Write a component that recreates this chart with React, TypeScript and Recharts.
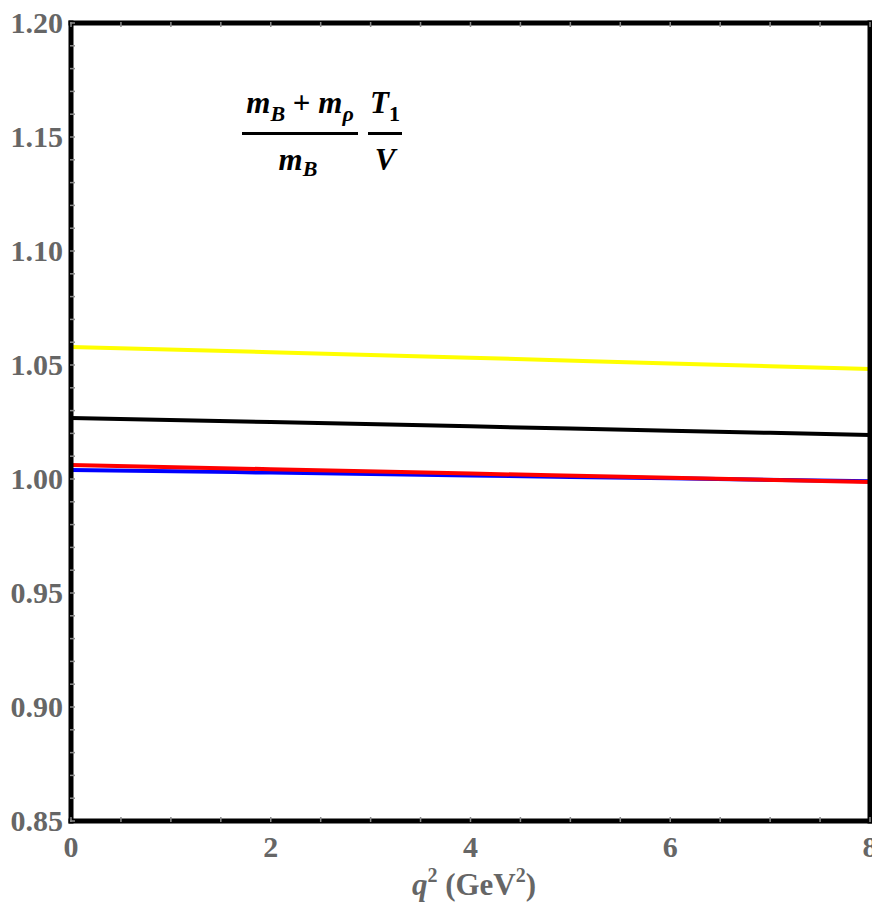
import React from "react";
import { LineChart, Line, XAxis, YAxis } from "recharts";

const qValues = [0, 2, 4, 6, 8];
const yellowSeries = [1.0579, 1.0556, 1.0532, 1.0507, 1.0482];
const blackSeries = [1.0268, 1.025, 1.0231, 1.0212, 1.0193];
const redSeries = [1.0061, 1.0043, 1.0024, 1.0005, 0.9987];
const blueSeries = [1.004, 1.0028, 1.0015, 1.0003, 0.999];

const xMajorTicks = [0, 2, 4, 6, 8];
const xAllTicks = [0, 0.5, 1, 1.5, 2, 2.5, 3, 3.5, 4, 4.5, 5, 5.5, 6, 6.5, 7, 7.5, 8];
const yMajorTicks = [0.85, 0.9, 0.95, 1.0, 1.05, 1.1, 1.15, 1.2];
const yAllTicks = [
  0.85, 0.86, 0.87, 0.88, 0.89, 0.9, 0.91, 0.92, 0.93, 0.94, 0.95, 0.96, 0.97, 0.98,
  0.99, 1.0, 1.01, 1.02, 1.03, 1.04, 1.05, 1.06, 1.07, 1.08, 1.09, 1.1, 1.11, 1.12,
  1.13, 1.14, 1.15, 1.16, 1.17, 1.18, 1.19, 1.2,
];

const data = qValues.map((q, i) => ({
  q,
  yellow: yellowSeries[i],
  black: blackSeries[i],
  red: redSeries[i],
  blue: blueSeries[i],
}));

const FONT = "'Liberation Serif', 'Times New Roman', serif";
const GRAY = "#666666";
const TICK = "#8a8a8a";

const isMajor = (v: number, list: number[]) => list.some((m) => Math.abs(m - v) < 1e-6);

const LeftTick = (props: any) => {
  const { x, y, payload } = props;
  const v = payload.value;
  return (
    <g>
      <line x1={x - 1} x2={x + 4} y1={y} y2={y} stroke={TICK} strokeWidth={1.5} />
      {isMajor(v, yMajorTicks) && (
        <text x={x - 8} y={y} dy={10} textAnchor="end" fontFamily={FONT} fontWeight="bold" fontSize={30} fill={GRAY}>
          {v.toFixed(2)}
        </text>
      )}
    </g>
  );
};

const RightTick = (props: any) => {
  const { x, y } = props;
  return <line x1={x + 1} x2={x - 4} y1={y} y2={y} stroke={TICK} strokeWidth={1.5} />;
};

const BottomTick = (props: any) => {
  const { x, y, payload } = props;
  const v = payload.value;
  return (
    <g>
      <line x1={x} x2={x} y1={y + 1} y2={y - 4} stroke={TICK} strokeWidth={1.5} />
      {isMajor(v, xMajorTicks) && (
        <text x={x} y={y + 36} textAnchor="middle" fontFamily={FONT} fontWeight="bold" fontSize={30} fill={GRAY}>
          {String(v)}
        </text>
      )}
    </g>
  );
};

const TopTick = (props: any) => {
  const { x, y } = props;
  return <line x1={x} x2={x} y1={y - 1} y2={y + 4} stroke={TICK} strokeWidth={1.5} />;
};

const frame = { stroke: "#000", strokeWidth: 5, strokeLinecap: "square" as const };

export default function App() {
  return (
    <div style={{ position: "relative", width: 864, height: 905, marginTop: -8, overflow: "visible" }}>
      <style>{"svg { overflow: visible !important; } html, body { overflow: hidden; }"}</style>
      <LineChart width={864} height={905} data={data} margin={{ top: 22, right: 1, left: 0, bottom: 0 }}>
        <XAxis
          xAxisId="b"
          dataKey="q"
          type="number"
          domain={[0, 8]}
          ticks={xAllTicks}
          interval={0}
          orientation="bottom"
          height={84}
          tickSize={0}
          tickMargin={0}
          tickLine={false}
          axisLine={frame}
          tick={<BottomTick />}
        />
        <XAxis
          xAxisId="t"
          dataKey="q"
          type="number"
          domain={[0, 8]}
          ticks={xAllTicks}
          interval={0}
          orientation="top"
          height={1}
          tickSize={0}
          tickMargin={0}
          tickLine={false}
          axisLine={frame}
          tick={<TopTick />}
        />
        <YAxis
          yAxisId="l"
          type="number"
          domain={[0.85, 1.2]}
          ticks={yAllTicks}
          interval={0}
          orientation="left"
          width={63}
          tickSize={0}
          tickMargin={0}
          tickLine={false}
          axisLine={frame}
          tick={<LeftTick />}
        />
        <YAxis
          yAxisId="r"
          type="number"
          domain={[0.85, 1.2]}
          ticks={yAllTicks}
          interval={0}
          orientation="right"
          width={1}
          tickSize={0}
          tickMargin={0}
          tickLine={false}
          axisLine={frame}
          tick={<RightTick />}
        />
        <Line xAxisId="b" yAxisId="l" type="monotone" dataKey="yellow" stroke="#ffff00" strokeWidth={4} dot={false} isAnimationActive={false} />
        <Line xAxisId="b" yAxisId="l" type="monotone" dataKey="black" stroke="#000000" strokeWidth={4} dot={false} isAnimationActive={false} />
        <Line xAxisId="b" yAxisId="l" type="monotone" dataKey="blue" stroke="#0000ff" strokeWidth={4} dot={false} isAnimationActive={false} />
        <Line xAxisId="b" yAxisId="l" type="monotone" dataKey="red" stroke="#ff0000" strokeWidth={4} dot={false} isAnimationActive={false} />
      </LineChart>
      <svg width={864} height={905} style={{ position: "absolute", left: 0, top: 0, pointerEvents: "none" }}>
        <text x={466} y={895} textAnchor="middle" fontFamily={FONT} fontWeight="bold" fontSize={31} fill={GRAY}>
          <tspan fontStyle="italic">q</tspan>
          <tspan fontSize={20} dy={-13}>2</tspan>
          <tspan dy={13}>{" (GeV"}</tspan>
          <tspan fontSize={20} dy={-13}>2</tspan>
          <tspan dy={13}>)</tspan>
        </text>
        <g fontFamily={FONT} fontWeight="bold" fill="#000">
          <text x={292} y={113} textAnchor="middle" fontSize={31}>
            <tspan fontStyle="italic">m</tspan>
            <tspan fontStyle="italic" fontSize={22} dy={8}>B</tspan>
            <tspan dy={-8}>{" + "}</tspan>
            <tspan fontStyle="italic">m</tspan>
            <tspan fontStyle="italic" fontSize={22} dy={8}>ρ</tspan>
          </text>
          <line x1={234} x2={350} y1={133.5} y2={133.5} stroke="#000" strokeWidth={3} />
          <text x={290} y={170} textAnchor="middle" fontSize={31}>
            <tspan fontStyle="italic">m</tspan>
            <tspan fontStyle="italic" fontSize={22} dy={6}>B</tspan>
          </text>
          <text x={377} y={113} textAnchor="middle" fontSize={31}>
            <tspan fontStyle="italic">T</tspan>
            <tspan fontSize={22} dy={8}>1</tspan>
          </text>
          <line x1={360} x2={394} y1={133.5} y2={133.5} stroke="#000" strokeWidth={3} />
          <text x={377} y={170} textAnchor="middle" fontSize={31} fontStyle="italic">
            V
          </text>
        </g>
      </svg>
    </div>
  );
}
